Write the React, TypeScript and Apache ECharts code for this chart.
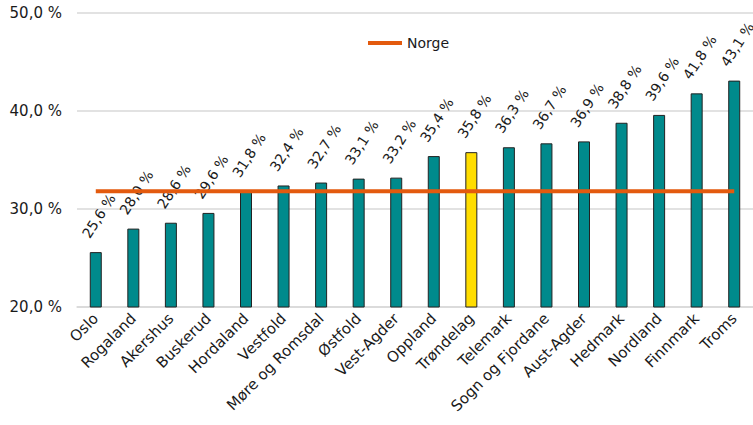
import React, { useEffect, useRef } from "react";
import * as echarts from "echarts";

const categories = [
  "Oslo", "Rogaland", "Akershus", "Buskerud", "Hordaland", "Vestfold",
  "Møre og Romsdal", "Østfold", "Vest-Agder", "Oppland", "Trøndelag",
  "Telemark", "Sogn og Fjordane", "Aust-Agder", "Hedmark", "Nordland",
  "Finnmark", "Troms",
];
const values = [
  25.6, 28.0, 28.6, 29.6, 31.8, 32.4, 32.7, 33.1, 33.2, 35.4, 35.8,
  36.3, 36.7, 36.9, 38.8, 39.6, 41.8, 43.1,
];
const highlight = "Trøndelag";
const norgeValue = 31.8;
const yTicks = { min: 20, max: 50, interval: 10 };

const FONT = "DejaVu Sans, Verdana, sans-serif";
const fmt = (v: number) => v.toFixed(1).replace(".", ",") + " %";

export default function App() {
  const ref = useRef<HTMLDivElement>(null);
  useEffect(() => {
    document.body.style.margin = "0";
    const chart = echarts.init(ref.current!, null, { renderer: "svg" });
    chart.setOption({
      animation: false,
      textStyle: { fontFamily: FONT },
      grid: { left: 77, right: -4, top: 13, bottom: 118 },
      legend: {
        data: [{ name: "Norge", icon: "rect" }],
        left: 363,
        top: 31,
        itemWidth: 34,
        itemHeight: 4,
        itemGap: 5,
        textStyle: { fontFamily: FONT, fontSize: 14, color: "#1a1a1a" },
      },
      xAxis: {
        type: "category",
        data: categories,
        axisTick: { show: false },
        axisLine: { lineStyle: { color: "#D9D9D9", width: 1.5 } },
        axisLabel: {
          rotate: 45,
          interval: 0,
          margin: 9,
          fontFamily: FONT,
          fontSize: 15,
          color: "#1a1a1a",
        },
      },
      yAxis: {
        type: "value",
        min: yTicks.min,
        max: yTicks.max,
        interval: yTicks.interval,
        axisLine: { show: false },
        axisTick: { show: false },
        splitLine: { lineStyle: { color: "#D9D9D9", width: 1.5 } },
        axisLabel: {
          formatter: (v: number) => fmt(v),
          margin: 15,
          fontFamily: FONT,
          fontSize: 15,
          color: "#1a1a1a",
        },
      },
      series: [
        {
          type: "bar",
          name: "Andel",
          barWidth: 12,
          data: categories.map((c, i) => ({
            value: values[i],
            itemStyle: {
              color: c === highlight ? "#FFDD00" : "#008A8C",
              borderColor: "#222",
              borderWidth: 1,
            },
          })),
          label: {
            show: true,
            position: "top",
            rotate: 57,
            align: "left",
            verticalAlign: "middle",
            distance: 3,
            offset: [5, -15.5],
            formatter: (p: any) => fmt(p.value),
            fontFamily: FONT,
            fontSize: 14,
            color: "#1a1a1a",
          },
        },
        {
          type: "line",
          name: "Norge",
          data: categories.map(() => norgeValue),
          symbol: "none",
          lineStyle: { color: "#E35A0E", width: 4 },
          itemStyle: { color: "#E35A0E" },
          z: 5,
        },
      ],
    });
    return () => chart.dispose();
  }, []);
  return <div ref={ref} style={{ width: 753, height: 425 }} />;
}
